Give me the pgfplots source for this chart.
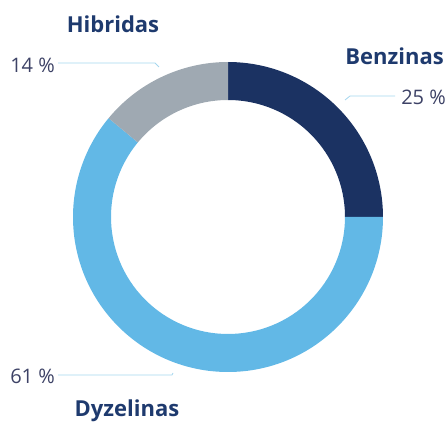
\documentclass[border=0pt]{standalone}
\usepackage{pgfplots}
\pgfplotsset{compat=1.18}
\usepackage{pgfplotstable}
\usepackage{fontspec}
\setmainfont{Open Sans}

\definecolor{seg0}{HTML}{1B3262}
\definecolor{seg1}{HTML}{62B8E6}
\definecolor{seg2}{HTML}{9FA9B2}
\definecolor{lbl}{HTML}{1E3A6E}
\definecolor{pct}{HTML}{3D4266}
\definecolor{leader}{HTML}{A5D6EE}

% share of cars by fuel type, clockwise from 12 o'clock
\pgfplotstableread{
label value
Benzinas 25
Dyzelinas 61
Hibridas 14
}\shares

\begin{document}
\begin{tikzpicture}
\begin{axis}[
  width=448pt, height=421pt, scale only axis,
  xmin=0, xmax=448, ymin=0, ymax=421,
  hide axis, clip=false,
]
  % keep the full canvas in the bounding box
  \path (axis cs:0,0) rectangle (axis cs:448,421);

  \pgfplotstablegetrowsof{\shares}
  \pgfmathtruncatemacro\nrows{\pgfplotsretval-1}
  \def\angstart{90}
  \pgfplotsforeachungrouped \i in {0,...,\nrows}{
    \pgfplotstablegetelem{\i}{value}\of\shares
    \let\val\pgfplotsretval
    \pgfmathsetmacro\angend{\angstart-3.6*\val}
    \pgfmathsetmacro\xs{228+155*cos(\angstart)}
    \pgfmathsetmacro\ys{204+155*sin(\angstart)}
    \pgfmathsetmacro\xi{228+117*cos(\angend)}
    \pgfmathsetmacro\yi{204+117*sin(\angend)}
    \edef\temp{\noexpand\fill[seg\i] (axis cs:\xs,\ys)
      arc[start angle=\angstart, end angle=\angend, radius=155pt]
      -- (axis cs:\xi,\yi)
      arc[start angle=\angend, end angle=\angstart, radius=117pt] -- cycle;}
    \temp
    \global\let\angstart\angend
  }

  % leader lines
  \draw[leader, line width=0.8pt] (axis cs:58,358) -- (axis cs:155,358) -- (axis cs:159,354);
  \draw[leader, line width=0.8pt] (axis cs:345,321) -- (axis cs:350,325) -- (axis cs:395,325);
  \draw[leader, line width=0.8pt] (axis cs:58,46) -- (axis cs:172,46) -- (axis cs:173,48);

  % names
  \node[anchor=base, lbl, font=\fontsize{22}{24}\selectfont\bfseries, inner sep=0pt] at (axis cs:113,388) {Hibridas};
  \node[anchor=base east, lbl, font=\fontsize{22}{24}\selectfont\bfseries, inner sep=0pt] at (axis cs:444,356) {Benzinas};
  \node[anchor=base, lbl, font=\fontsize{22}{24}\selectfont\bfseries, inner sep=0pt] at (axis cs:127,4) {Dyzelinas};

  % percentages
  \node[anchor=base east, pct, font=\fontsize{20}{22}\selectfont, inner sep=0pt] at (axis cs:55,348) {14 \%};
  \node[anchor=base east, pct, font=\fontsize{20}{22}\selectfont, inner sep=0pt] at (axis cs:446,316) {25 \%};
  \node[anchor=base east, pct, font=\fontsize{20}{22}\selectfont, inner sep=0pt] at (axis cs:55,37) {61 \%};
\end{axis}
\end{tikzpicture}
\end{document}
